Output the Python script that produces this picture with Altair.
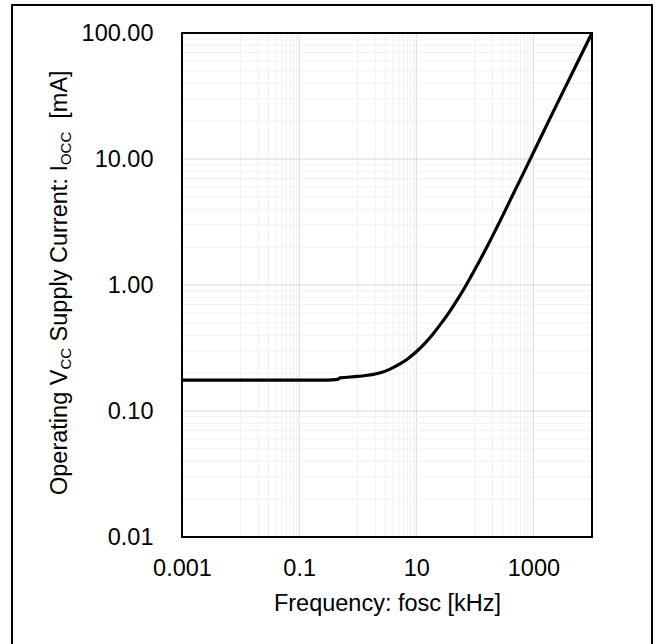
import altair as alt
import pandas as pd

# ---- data ----
freq_khz = [0.001, 0.3, 0.45, 0.5, 1, 2.35, 3.5, 5.16, 7, 10, 14, 19, 26, 36.6,
            50, 70.5, 100, 154, 300, 870, 2000, 5000, 10000]
icc_ma = [0.176, 0.176, 0.178, 0.183, 0.188, 0.2, 0.214, 0.235, 0.2575, 0.295, 0.344,
          0.405, 0.489, 0.61, 0.762, 0.992, 1.326, 1.93, 3.57, 9.85, 21.9, 52, 100]

x_major = [0.001, 0.1, 10, 1000]
x_minor = [0.01, 0.02, 0.03, 0.04, 0.05, 0.06, 0.07, 0.08, 0.09,
           1, 2, 3, 4, 5, 6, 7, 8, 9,
           100, 200, 300, 400, 500, 600, 700, 800, 900]
y_major = [0.01, 0.1, 1, 10, 100]
y_minor = [m * d for d in [0.01, 0.1, 1, 10] for m in range(2, 10)]

x_labels = [0.001, 0.1, 10, 1000]
y_labels = [0.01, 0.1, 1, 10, 100]

# ---- layout ----
FONT = "Liberation Sans"
FS = 23.5
SUB_FS = 15
W, H = 410, 504
PAD_L, PAD_T = 182, 33
PAD_R, PAD_B = 662 - PAD_L - W, 644 - PAD_T - H

xs = alt.Scale(type="log", domain=[0.001, 10000], nice=False)
ys = alt.Scale(type="log", domain=[0.01, 100], nice=False)

x_axis = alt.Axis(values=x_labels, format="~g", grid=False, ticks=False, tickSize=0,
                  domain=False, labelFont=FONT, labelFontSize=FS, labelColor="black",
                  labelPadding=19, labelFlush=False, labelOverlap=False,
                  title="Frequency: fosc [kHz]", titleFont=FONT, titleFontSize=FS,
                  titleFontWeight="normal", titleColor="black",
                  titleBaseline="alphabetic", titleY=73)
y_axis = alt.Axis(values=y_labels, format=".2f", grid=False, ticks=False, tickSize=0,
                  domain=False, labelFont=FONT, labelFontSize=FS, labelColor="black",
                  labelPadding=29, labelFlush=False, labelOverlap=False, title=None)

df_line = pd.DataFrame({"f": freq_khz, "i": icc_ma})
df_xg = pd.DataFrame({"v": x_minor + x_major,
                      "k": ["minor"] * len(x_minor) + ["major"] * len(x_major)})
df_yg = pd.DataFrame({"v": y_minor + y_major,
                      "k": ["minor"] * len(y_minor) + ["major"] * len(y_major)})

grid_color = alt.Color("k:N", scale=alt.Scale(domain=["minor", "major"],
                                              range=["#f0f0f0", "#d9d9d9"]), legend=None)

xgrid = alt.Chart(df_xg).mark_rule(strokeWidth=1).encode(
    x=alt.X("v:Q", scale=xs, axis=x_axis), color=grid_color,
    order=alt.Order("k:N", sort="descending"))
ygrid = alt.Chart(df_yg).mark_rule(strokeWidth=1).encode(
    y=alt.Y("v:Q", scale=ys, axis=y_axis), color=grid_color,
    order=alt.Order("k:N", sort="descending"))

line = alt.Chart(df_line).mark_line(color="black", strokeWidth=3.2, interpolate="monotone").encode(
    x=alt.X("f:Q", scale=xs, axis=x_axis),
    y=alt.Y("i:Q", scale=ys, axis=y_axis),
)

dummy = pd.DataFrame({"a": [0]})
border = alt.Chart(dummy).mark_rect(fill=None, stroke="black", strokeWidth=2).encode(
    x=alt.value(0), x2=alt.value(W), y=alt.value(0), y2=alt.value(H))
frame = alt.Chart(dummy).mark_rect(fill=None, stroke="black", strokeWidth=2).encode(
    x=alt.value(12 - PAD_L), x2=alt.value(652 - PAD_L),
    y=alt.value(5 - PAD_T), y2=alt.value(660 - PAD_T))

# ---- y title with subscripts (rotated text segments, gaps as explicit advances) ----
AW = {"O": 778, "p": 556, "e": 556, "r": 333, "a": 556, "t": 278, "i": 222, "n": 556,
      "g": 556, " ": 278, "V": 667, "C": 722, "S": 667, "u": 556, "l": 222,
      "y": 500, ":": 278, "I": 278, "[": 278, "m": 833, "A": 667, "]": 278}
# (text, is_subscript, number of leading spaces)
segments = [("Operating V", False, 0), ("CC", True, 0), ("Supply Current: I", False, 1),
            ("OCC", True, 0), ("[mA]", False, 2)]
base_x = 66.8
pos_y = 495.0
title_layers = []
for txt, sub, lead in segments:
    fs = SUB_FS if sub else FS
    bx = base_x + (4 if sub else 0)
    pos_y -= lead * 0.278 * fs
    title_layers.append(
        alt.Chart(dummy).mark_text(text=txt, font=FONT, fontSize=fs, angle=270,
                                   align="left", baseline="alphabetic", color="black").encode(
            x=alt.value(bx - PAD_L), y=alt.value(pos_y - PAD_T)))
    pos_y -= sum(AW[c] for c in txt) / 1000.0 * fs

chart = alt.layer(xgrid, ygrid, line, border, frame, *title_layers).properties(
    width=W, height=H,
    autosize=alt.AutoSizeParams(type="none"),
    padding={"left": PAD_L, "top": PAD_T, "right": PAD_R, "bottom": PAD_B},
    background="white",
).configure_view(stroke=None)

chart.save("out.html", embed_options={"renderer": "svg", "actions": False})
